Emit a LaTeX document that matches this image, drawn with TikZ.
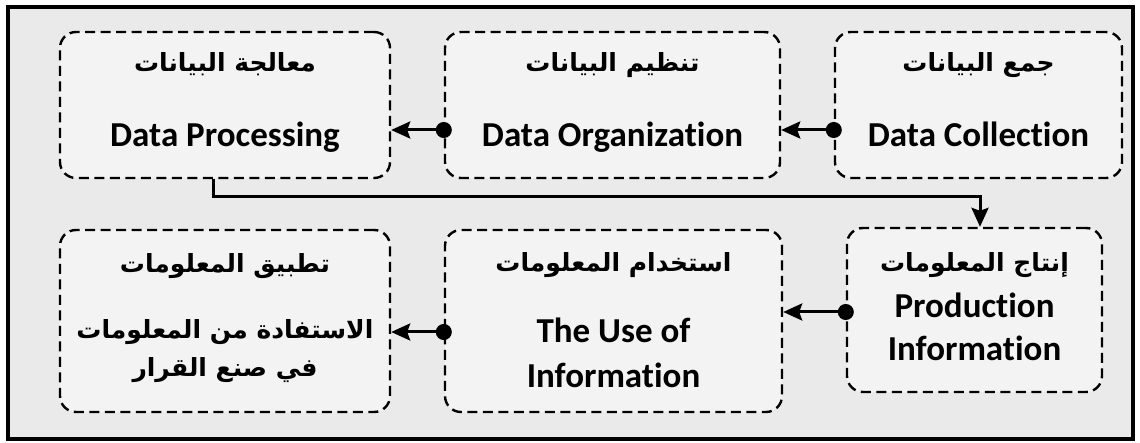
\documentclass[tikz,border=0pt]{standalone}
\usepackage{fontspec}
\setmainfont{Carlito}[Ligatures=NoCommon]
\newfontfamily\arabicfont[Script=Arabic]{DejaVu Sans}
\TeXXeTstate=1
\usetikzlibrary{arrows.meta}
\definecolor{bgcol}{HTML}{EAEAEA}
\definecolor{boxcol}{HTML}{F3F3F3}
\tikzset{
  stepbox/.style={draw, dashed, dash pattern=on 10pt off 5.5pt, line width=2.4pt, rounded corners=16pt, fill=boxcol, inner sep=0pt},
  en/.style={anchor=base, font=\fontsize{35}{40}\selectfont\bfseries, inner sep=0pt},
  ar/.style={anchor=base, font=\arabicfont\fontsize{25}{30}\selectfont\bfseries, inner sep=0pt},
  link/.style={line width=3pt, -{Stealth[length=19pt,width=17pt,inset=3pt]}},
  dotlink/.style={line width=3pt, shorten <=-8pt, {Circle[length=16pt]}-{Stealth[length=19pt,width=17pt,inset=3pt]}}
}
\begin{document}
\begin{tikzpicture}[x=1pt,y=-1pt]
\useasboundingbox (0,0) rectangle (1140,443);
\fill[white] (0,0) rectangle (1140,443);
\draw[line width=3.5pt, fill=bgcol] (8,7) rectangle (1133,439);

\node[stepbox, minimum width=330pt, minimum height=146pt] (b1) at (225,105) {};
\node[stepbox, minimum width=335pt, minimum height=146pt] (b2) at (612.5,105) {};
\node[stepbox, minimum width=287pt, minimum height=146pt] (b3) at (978.5,105) {};
\node[stepbox, minimum width=330pt, minimum height=182pt] (b4) at (225,321) {};
\node[stepbox, minimum width=337pt, minimum height=182pt] (b5) at (613.5,321) {};
\node[stepbox, minimum width=255pt, minimum height=164pt] (b6) at (974.5,310) {};

\node[ar] (t1a) at (225,72) {\beginR معالجة البيانات\endR};
\node[en] (t1e) at (225,147) {Data Processing};
\node[ar] (t2a) at (612.5,72) {\beginR تنظيم البيانات\endR};
\node[en] (t2e) at (612.5,147) {Data Organization};
\node[ar] (t3a) at (978.5,72) {\beginR جمع البيانات\endR};
\node[en] (t3e) at (978.5,147) {Data Collection};

\node[ar] (t4a) at (225,273) {\beginR تطبيق المعلومات\endR};
\node[ar] (t4b) at (225,338) {\beginR الاستفادة من المعلومات\endR};
\node[ar] (t4c) at (225,377) {\beginR في صنع القرار\endR};

\node[ar] (t5a) at (613.5,272) {\beginR استخدام المعلومات\endR};
\node[en] (t5b) at (613.5,343) {The Use of};
\node[en] (t5c) at (613.5,387) {Information};

\node[ar] (t6a) at (974.5,272) {\beginR إنتاج المعلومات\endR};
\node[en] (t6b) at (974.5,318) {Production};
\node[en] (t6c) at (974.5,360) {Information};

\draw[dotlink] ([yshift=-25pt]b3.west) -- ([yshift=-25pt]b2.east);
\draw[dotlink] ([yshift=-25pt]b2.west) -- ([yshift=-25pt]b1.east);
\draw[dotlink] ([yshift=-2pt]b6.west) -- ([yshift=-2pt]b6.west -| b5.east);
\draw[dotlink] ([yshift=-11pt]b5.west) -- ([yshift=-11pt]b4.east);

\coordinate (mid) at (600,197);
\draw[link] ([xshift=-12pt]b1.south) |- (mid) -| ([xshift=5.5pt]b6.north);
\end{tikzpicture}
\end{document}
